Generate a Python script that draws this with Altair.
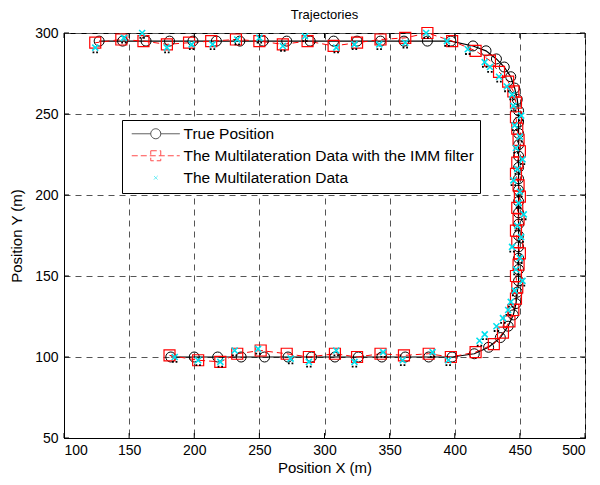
import altair as alt
import pandas as pd

series_names = ["True Position",
                "The Multilateration Data with the IMM filter",
                "The Multilateration Data"]

# True trajectory (path order: bottom leg -> right leg -> top leg)
true_x = [182, 200, 218, 236, 254, 272, 290, 308, 326, 344, 362, 380, 398,
          415, 426, 435, 441, 445, 447, 448,
          449, 449, 449, 449, 449, 449, 449, 449, 449, 449, 449, 449, 449, 449, 449, 449,
          448, 446, 443, 438, 432, 424, 414,
          397, 379, 361, 343, 325, 307, 289, 271, 253, 235, 217, 199, 181, 163, 145, 127]
true_y = [100, 100, 100, 100, 100, 100, 100, 100, 100, 100, 100, 100, 100,
          102, 106, 112, 119, 126, 133, 140,
          147, 154, 161, 168, 175, 182, 189, 196, 203, 210, 217, 224, 231, 238, 245, 252,
          259, 266, 273, 279, 284, 289, 292,
          295, 295, 295, 295, 295, 295, 295, 295, 295, 295, 295, 295, 295, 295, 295, 295]

# Multilateration data with the IMM filter
imm_x = [181, 203, 220, 233, 251, 271, 288, 308, 325, 343, 361, 380, 397,
         416, 430, 437, 442, 445, 447,
         448, 447, 449, 450, 448, 447, 449, 448, 450, 449, 447, 448, 450, 449, 448, 447,
         447, 445, 441, 434, 427, 416,
         398, 379, 362, 343, 325, 307, 287, 268, 250, 232, 213, 196, 179, 161, 144, 124]
imm_y = [101, 98, 97, 102, 104, 102, 100, 102, 100, 102, 101, 102, 100,
         103, 108, 115, 122, 129, 136,
         143, 150, 157, 164, 171, 178, 185, 192, 199, 206, 213, 220, 227, 234, 241, 248,
         257, 264, 270, 276, 283, 289,
         295, 300, 297, 296, 294, 292, 295, 293, 295, 296, 295, 294, 293, 295, 296, 294]

# Raw multilateration data
raw_x = [185, 203, 220, 231, 249, 274, 288, 309, 323, 345, 360, 383, 395,
         419, 423, 432, 437, 441, 443,
         446, 452, 447, 450, 444, 451, 448, 453, 449, 450, 445, 448, 452, 447, 450, 446, 451, 445,
         444, 440, 434, 427, 423, 410,
         394, 378, 362, 342, 323, 309, 285, 268, 250, 233, 214, 198, 179, 160, 146, 124]
raw_y = [100, 98, 97, 104, 105, 99, 97, 104, 97, 103, 98, 103, 98,
         110, 114, 119, 124, 129, 134,
         141, 147, 154, 161, 168, 174, 181, 188, 195, 202, 209, 216, 222, 229, 236, 243, 249, 255,
         262, 267, 273, 279, 282, 290,
         295, 300, 294, 293, 293, 291, 298, 292, 297, 296, 293, 293, 291, 300, 297, 291]

x_ticks = [100, 150, 200, 250, 300, 350, 400, 450, 500]
y_ticks = [50, 100, 150, 200, 250, 300]

W, H = 521, 405
FONT = "Liberation Sans"

true_df = pd.DataFrame({"x": true_x, "y": true_y, "k": list(range(len(true_x)))})
imm_df = pd.DataFrame({"x": imm_x, "y": imm_y, "k": list(range(len(imm_x)))})
raw_df = pd.DataFrame({"x": raw_x, "y": raw_y})
xt_df = pd.DataFrame({"v": x_ticks})
yt_df = pd.DataFrame({"v": y_ticks})
leg_df = pd.DataFrame({"series": series_names})

xs = alt.Scale(domain=[100, 500], nice=False, zero=False)
ys = alt.Scale(domain=[50, 300], nice=False, zero=False)
xaxis = alt.Axis(values=x_ticks, title="Position X (m)", grid=True, ticks=False,
                 labelPadding=5, titlePadding=3)
yaxis = alt.Axis(values=y_ticks, title="Position Y (m)", grid=True, ticks=False,
                 labelPadding=6, titlePadding=10)


def X(f):
    return alt.X(f, type="quantitative", scale=xs, axis=xaxis)


def Y(f):
    return alt.Y(f, type="quantitative", scale=ys, axis=yaxis)


true_line = alt.Chart(true_df).mark_line(color="black", strokeWidth=1.2).encode(
    x=X("x"), y=Y("y"), order="k:Q")
true_pts = alt.Chart(true_df).mark_point(shape="circle", size=100, color="black",
                                         filled=False, strokeWidth=1, opacity=1).encode(
    x=X("x"), y=Y("y"))
imm_line = alt.Chart(imm_df).mark_line(color="red", strokeWidth=1, strokeDash=[6, 4]).encode(
    x=X("x"), y=Y("y"), order="k:Q")
imm_pts = alt.Chart(imm_df).mark_point(shape="square", size=121, color="red",
                                       filled=False, strokeWidth=1.2, opacity=1).encode(
    x=X("x"), y=Y("y"))
raw_pts = alt.Chart(raw_df).mark_point(shape="M-1,-1L1,1M1,-1L-1,1", size=36, color="#00e0ee",
                                       filled=False, strokeWidth=1.6, opacity=1).encode(
    x=X("x"), y=Y("y"))
raw_dots = alt.Chart(raw_df).mark_point(
    shape="M-0.9,1.3h0.6v0.6h-0.6zM0.3,1.3h0.6v0.6h-0.6z", size=36, color="black",
    filled=True, opacity=1).encode(x=X("x"), y=Y("y"))

tick_b = alt.Chart(xt_df).mark_rule(color="black").encode(
    x=X("v"), y=alt.value(H), y2=alt.value(H - 5))
tick_t = alt.Chart(xt_df).mark_rule(color="black").encode(
    x=X("v"), y=alt.value(0), y2=alt.value(5))
tick_l = alt.Chart(yt_df).mark_rule(color="black").encode(
    y=Y("v"), x=alt.value(0), x2=alt.value(5))
tick_r = alt.Chart(yt_df).mark_rule(color="black").encode(
    y=Y("v"), x=alt.value(W - 5), x2=alt.value(W))

p_true = "M-4.8,0L-1,0M1,0L4.8,0M-1,0A1,1,0,1,0,1,0A1,1,0,1,0,-1,0"
p_imm = "M-4.8,0L4.8,0M-1,-1L1,-1L1,1L-1,1Z"
p_raw = "M-0.35,-0.35L0.35,0.35M0.35,-0.35L-0.35,0.35"

leg = alt.Legend(title=None, orient="none", legendX=58, legendY=87)
legend_layer = alt.Chart(leg_df).transform_filter("false").mark_point(filled=False).encode(
    shape=alt.Shape("series:N", scale=alt.Scale(domain=series_names,
                                                range=[p_true, p_imm, p_raw]), legend=leg),
    color=alt.Color("series:N", scale=alt.Scale(domain=series_names,
                                                range=["black", "red", "#00e0ee"]), legend=leg),
    strokeDash=alt.StrokeDash("series:N", scale=alt.Scale(domain=series_names,
                                                          range=[[1, 0], [6, 3], [1, 0]]),
                              legend=leg),
)

chart = alt.layer(
    true_line, imm_line, true_pts, imm_pts, raw_dots, raw_pts,
    tick_b, tick_t, tick_l, tick_r, legend_layer
).properties(
    width=W, height=H,
    title=alt.Title("Trajectories", offset=3),
    autosize=alt.AutoSizeParams(type="none"),
    padding={"left": 56, "top": 25, "right": 7, "bottom": 44},
).configure_view(
    stroke="black", strokeWidth=1
).configure_axis(
    domainColor="black", domainWidth=1,
    labelFont=FONT, labelFontSize=14, labelColor="black",
    titleFont=FONT, titleFontSize=15, titleFontWeight="normal", titleColor="black",
    gridColor="#555555", gridDash=[6, 5], gridWidth=1, gridOpacity=1,
).configure_title(
    font=FONT, fontSize=13, fontWeight="normal", color="black", anchor="middle"
).configure_legend(
    labelFont=FONT, labelFontSize=15.5, labelColor="black",
    strokeColor="black", fillColor="white", padding=6,
    symbolSize=100, symbolStrokeWidth=1, symbolFillColor="transparent",
    rowPadding=5, labelOffset=20, symbolOffset=20, labelLimit=0,
)

chart.save("out.html", embed_options={"renderer": "svg", "actions": False})
